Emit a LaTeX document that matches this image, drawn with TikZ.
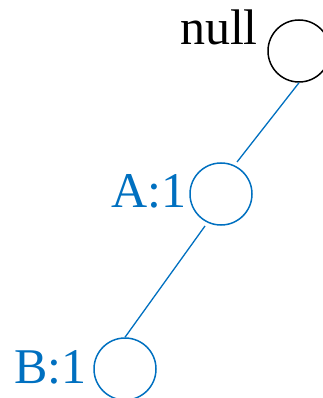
\documentclass[tikz,border=0pt]{standalone}
\usepackage{fontspec}
\setmainfont{Liberation Serif}
\definecolor{nodeblue}{RGB}{0,112,192}
\begin{document}
\begin{tikzpicture}[x=1pt,y=-1pt,
  treenode/.style={circle,draw,line width=1.5pt,minimum size=62pt,inner sep=0pt},
  lbl/.style={anchor=base east,inner sep=0pt,font=\fontsize{50}{51}\selectfont},
  edge/.style={nodeblue,line width=1.3pt}]
\useasboundingbox (0,0) rectangle (323,398);
\clip (0,0) rectangle (323,398);
\node[treenode,black] (n0) at (299,51) {};
\node[lbl,black] (t0) at (258,45) {null};
\node[treenode,nodeblue] (n1) at (221,194) {};
\node[lbl,nodeblue] (t1) at (187,207) {A:1};
\node[treenode,nodeblue] (n2) at (125,369) {};
\node[lbl,nodeblue] (t2) at (87,383) {B:1};
\coordinate (e1) at (237,162);
\coordinate (s2) at (205,226);
\draw[edge] (n0.south) -- (e1);
\draw[edge] (s2) -- (n2.north);
\end{tikzpicture}
\end{document}
